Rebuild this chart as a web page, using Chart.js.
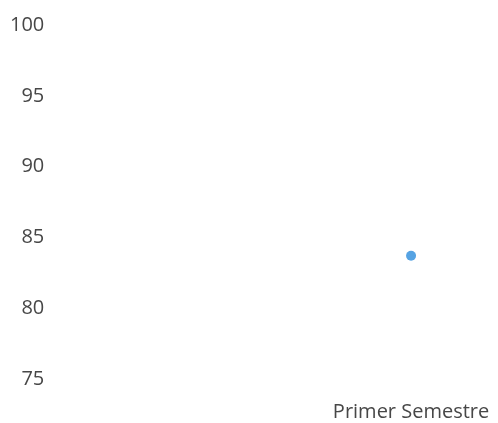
<!DOCTYPE html>
<html>
<head>
<meta charset="utf-8">
<script src="https://cdn.jsdelivr.net/npm/chart.js@4/dist/chart.umd.min.js"></script>
<style>
  html, body { margin: 0; padding: 0; background: #fff; }
  #wrap { width: 498px; height: 423px; }
</style>
</head>
<body>
<div id="wrap"><canvas id="chart" width="498" height="423"></canvas></div>
<script>
// categories (only the last one carries a point and a label)
const categories = ["", "", "Primer Semestre"];
const scores = [null, null, 83.7];
const yTicks = [75, 80, 85, 90, 95, 100];

const ctx = document.getElementById("chart").getContext("2d");
const chart = new Chart(ctx, {
  type: "line",
  data: {
    labels: categories,
    datasets: [
      {
        label: "Promedio",
        data: scores,
        showLine: false,
        pointRadius: 5,
        pointBorderWidth: 0,
        pointBackgroundColor: "#56a3e3",
        pointBorderColor: "#56a3e3",
      },
    ],
  },
  options: {
    responsive: false,
    animation: false,
    layout: { padding: { left: -2, right: 16, top: 25, bottom: -22 } },
    plugins: { legend: { display: false }, tooltip: { enabled: false } },
    scales: {
      x: {
        offset: true,
        grid: { display: false, drawTicks: false },
        border: { display: false },
        afterFit: (scale) => {
          // let the last label hang past the plot edge
          scale.paddingRight = 0;
        },
        ticks: {
          padding: 21,
          maxRotation: 0,
          autoSkip: false,
          color: "#474747",
          font: { family: "Open Sans", size: 20 },
        },
      },
      y: {
        min: yTicks[0],
        max: yTicks[yTicks.length - 1],
        grid: { display: false, drawTicks: false },
        border: { display: false },
        afterBuildTicks: (axis) => {
          axis.ticks = yTicks.map((v) => ({ value: v }));
        },
        ticks: {
          padding: 12,
          color: "#474747",
          font: { family: "Open Sans", size: 20 },
        },
      },
    },
  },
});
</script>
</body>
</html>
